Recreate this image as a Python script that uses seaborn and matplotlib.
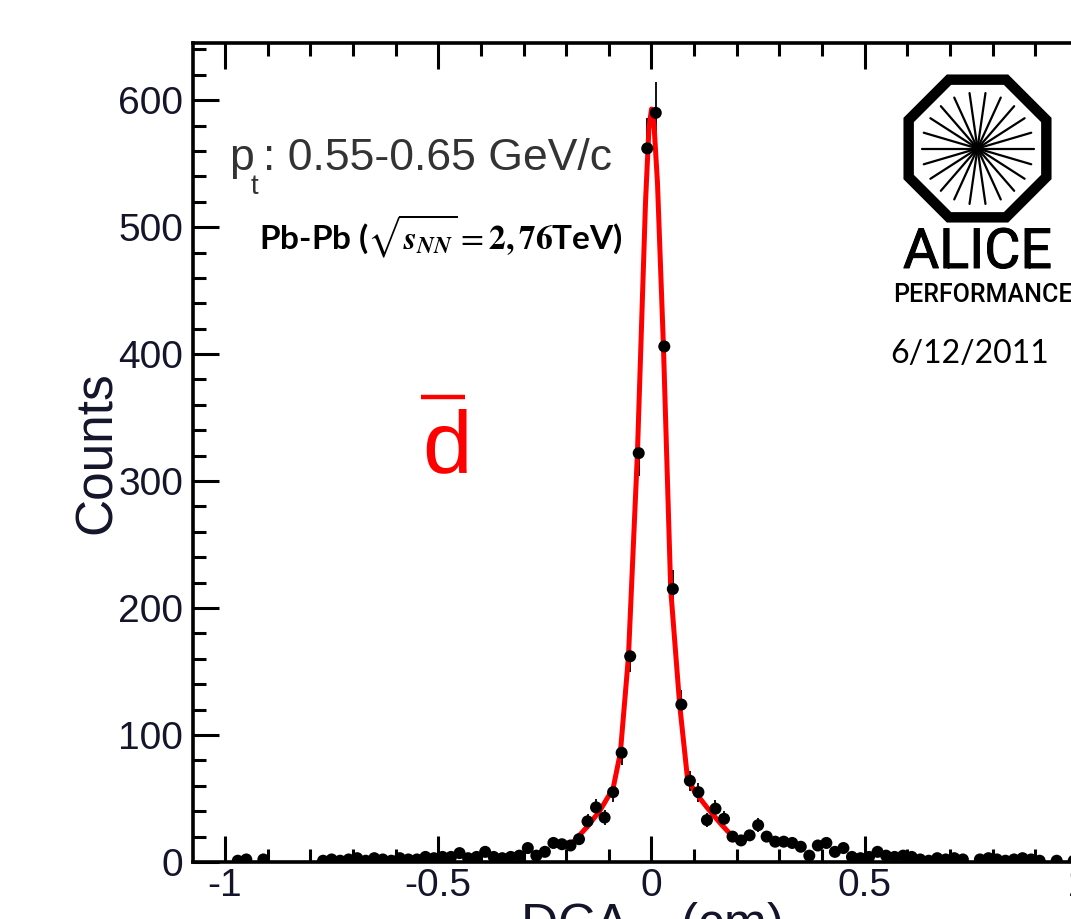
import numpy as np
import matplotlib
matplotlib.use("Agg")
import matplotlib.pyplot as plt
import matplotlib.patheffects as pe
from matplotlib.patches import RegularPolygon
from matplotlib.ticker import MultipleLocator, FixedLocator
import seaborn as sns

# ---------------- data ----------------
bin_centers = [round(-0.99 + 0.02 * i, 2) for i in range(100)]
counts = [0, 1, 2, 0, 2, 0, 0, 0, 0, 0,
          0, 1, 2, 1, 2, 3, 1, 3, 2, 1,
          3, 2, 2, 4, 3, 4, 4, 7, 3, 4,
          8, 4, 3, 4, 5, 11, 5, 8, 15, 14,
          13, 18, 32, 43, 35, 55, 86, 162, 322, 562,
          590, 406, 215, 124, 64, 55, 33, 42, 34, 20,
          17, 21, 29, 20, 16, 16, 15, 12, 5, 13,
          15, 8, 11, 4, 3, 4, 8, 5, 4, 5,
          4, 2, 1, 3, 2, 3, 2, 0, 2, 3,
          2, 1, 2, 3, 2, 1, 0, 1, 0, 1]

fit_x = [-0.20, -0.18, -0.15, -0.12, -0.09, -0.073, -0.054, -0.033, -0.014,
         -0.006, 0.0, 0.006, 0.014, 0.028, 0.045, 0.066, 0.084, 0.10, 0.13,
         0.16, 0.19, 0.20]
fit_y = [12, 17, 28, 41, 58, 86, 162, 322, 520, 578, 593, 580, 535, 406, 215,
         124, 67, 56, 43, 31, 20, 17]

x_ticks = [-1, -0.5, 0, 0.5, 1]
x_tick_labels = ["-1", "-0.5", "0", "0.5", "1"]
y_ticks = [0, 100, 200, 300, 400, 500, 600]
y_tick_labels = ["0", "100", "200", "300", "400", "500", "600"]

# ---------------- style ----------------
sns.set_theme(style="ticks")
plt.rcParams["font.family"] = ["Liberation Sans", "DejaVu Sans"]
plt.rcParams["mathtext.fontset"] = "custom"
plt.rcParams["mathtext.rm"] = "Liberation Sans"
plt.rcParams["mathtext.it"] = "Liberation Sans:italic"
plt.rcParams["mathtext.bf"] = "Liberation Sans:bold"

W, H = 1071, 919
fig = plt.figure(figsize=(W / 100, H / 100), dpi=100)
fig.patch.set_facecolor("white")

# main axes (extends past right edge as in the cropped reference)
ax_left, ax_right, ax_top, ax_bot = 193, 1110, 43, 862
ax = fig.add_axes([ax_left / W, (H - ax_bot) / H,
                   (ax_right - ax_left) / W, (ax_bot - ax_top) / H])
ax.set_facecolor("white")

xc = np.array(bin_centers)
yc = np.array(counts, dtype=float)
mask = yc > 0
xs, ys = xc[mask], yc[mask]

ax.errorbar(xs, ys, yerr=np.sqrt(ys), fmt="none", ecolor="black",
            elinewidth=1.3, capsize=0, zorder=3)
sns.lineplot(x=fit_x, y=fit_y, color="#ff0000", linewidth=3.6, ax=ax,
             estimator=None, sort=False, zorder=3.5)
sns.scatterplot(x=xs, y=ys, color="black", s=75, edgecolor="none", ax=ax,
                zorder=4, legend=False)

ax.set_xlim(-1.075, 1.075)
ax.set_ylim(0, 645)
ax.xaxis.set_major_locator(FixedLocator(x_ticks))
ax.set_xticklabels(x_tick_labels)
ax.xaxis.set_minor_locator(MultipleLocator(0.1))
ax.yaxis.set_major_locator(FixedLocator(y_ticks))
ax.set_yticklabels(y_tick_labels)
ax.yaxis.set_minor_locator(MultipleLocator(20))

for s in ax.spines.values():
    s.set_linewidth(2.6)
    s.set_color("black")
ax.tick_params(which="both", direction="in", top=True, right=True,
               width=2.2, color="black")
ax.tick_params(which="major", length=19)
ax.tick_params(which="minor", length=9.5)
ax.tick_params(axis="both", which="major", labelsize=28, labelcolor="#14142b")
ax.tick_params(axis="y", pad=7)
ax.tick_params(axis="x", pad=4)

ax.set_xlabel("")
ax.set_ylabel("Counts", fontsize=37, color="#14142b")
ax.yaxis.set_label_coords(-0.0774, 0.5)

# ---------------- overlay (pixel coordinates) ----------------
ov = fig.add_axes([0, 0, 1, 1], zorder=10)
ov.set_xlim(0, W)
ov.set_ylim(H, 0)
ov.axis("off")

# x label (cut off at bottom, as in the reference)
ov.text(651, 941, r"DCA$_{\mathregular{xy}}$ (cm)", fontsize=37,
        color="#14142b", ha="center", va="baseline")

# pt label
tcol = "#333333"
ov.text(229, 170, "p", fontsize=32, color=tcol, ha="left", va="baseline")
ov.text(251, 194, "t", fontsize=20, color=tcol, ha="left", va="baseline")
ov.text(263, 170, ": 0.55-0.65 GeV/c", fontsize=32, color=tcol,
        ha="left", va="baseline")

# Pb-Pb label
pb = ov.text(259, 249,
             r"Pb-Pb ($\sqrt{\mathbfit{s}_{\mathbfit{NN}}}=\mathbf{2,76}$TeV)",
             fontsize=24, color="black", ha="left", va="baseline",
             family=["Lato", "DejaVu Sans"], fontweight="bold",
             math_fontfamily="stix")

# red anti-deuteron symbol
ov.text(422, 473, "d", fontsize=64, color="#ff0000", ha="left",
        va="baseline")
ov.plot([421, 465], [397, 397], color="#ff0000", lw=3.2,
        solid_capstyle="butt")

# ALICE logo
cx, cy = 977.5, 148.5
octagon = RegularPolygon((cx, cy), numVertices=8, radius=74.5,
                         orientation=np.pi / 8, facecolor="none",
                         edgecolor="black", linewidth=7.5)
ov.add_patch(octagon)
n_lines = 11
for k in range(n_lines):
    a = np.pi * k / n_lines
    dx, dy = 56 * np.cos(a), 56 * np.sin(a)
    ov.plot([cx - dx, cx + dx], [cy - dy, cy + dy], color="black", lw=1.6)
ov.text(977.5, 268, "ALICE", fontsize=40, family=["Roboto", "DejaVu Sans"],
        fontweight="normal", ha="center", va="baseline", color="black",
        path_effects=[pe.withStroke(linewidth=0.7, foreground="black")])
ov.text(893, 302, "PERFORMANCE", fontsize=18, family=["Roboto", "DejaVu Sans"],
        fontweight="medium", ha="left", va="baseline", color="black")
ov.text(890, 363, "6/12/2011", fontsize=23, family=["Lato", "DejaVu Sans"],
        ha="left", va="baseline", color="black")

try:
    fig.canvas.draw()
except Exception:
    pb.set_text(r"Pb-Pb ($\sqrt{\mathit{s}_{\mathit{NN}}}=\mathbf{2,76}$TeV)")

fig.savefig("out.png", dpi=100, facecolor="white")
